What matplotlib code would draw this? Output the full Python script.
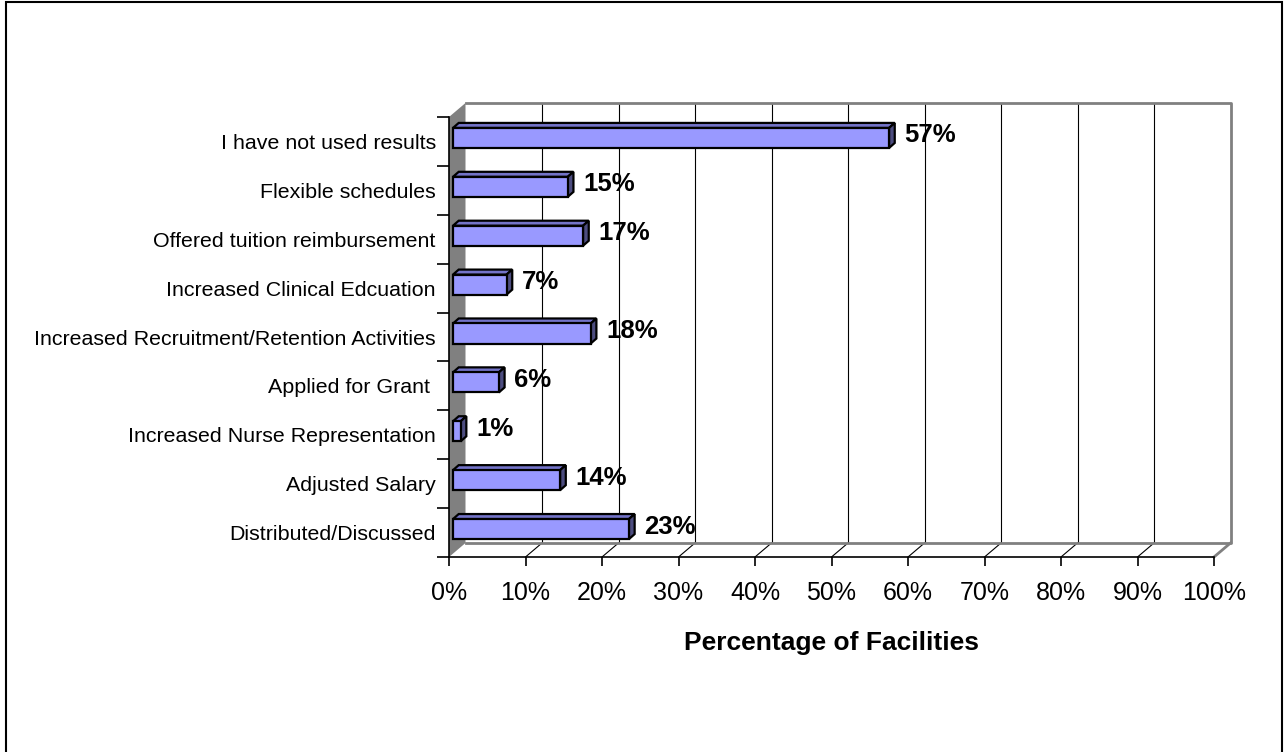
import numpy as np
import matplotlib.pyplot as plt
from matplotlib.patches import Polygon, Rectangle

plt.rcParams['font.family'] = ['Liberation Sans', 'DejaVu Sans']

# survey results, bottom row first
categories = ['Distributed/Discussed', 'Adjusted Salary', 'Increased Nurse Representation',
              'Applied for Grant ', 'Increased Recruitment/Retention Activities',
              'Increased Clinical Edcuation', 'Offered tuition reimbursement',
              'Flexible schedules', 'I have not used results']
values = [23, 14, 1, 6, 18, 7, 17, 15, 57]
xticks = np.arange(0, 101, 10)
xticklabels = ['%d%%' % t for t in xticks]

W, H = 1288, 752
fig = plt.figure(figsize=(W/100, H/100), dpi=100)

# front plane of the 3d box, in pixels
x0, x1 = 449, 1214
yb, yt = 557, 117
ax = fig.add_axes([x0/W, (H-yb)/H, (x1-x0)/W, (yb-yt)/H])
ax.set_xlim(0, 100)
ax.set_ylim(-0.5, len(categories)-0.5)

# pixel -> data scale
sx = (x1-x0)/100.
sy = (yb-yt)/float(len(categories))

def px(dx, dy):
    return dx/sx, dy/sy

# depth of the box and of the bars
DX, DY = px(16.5, 14)
FX, FY = px(4, 3.5)
BX, BY = px(5.7, 5.0)
hh = 0.205

ylo, yhi = -0.5, len(categories)-0.5
wall = '#808080'

# back wall
ax.add_patch(Rectangle((DX, ylo+DY), 100, yhi-ylo, facecolor='white',
                       edgecolor='none', zorder=0.5, clip_on=False))
for t in xticks[1:-1]:
    ax.plot([t+DX, t+DX], [ylo+DY, yhi+DY], color='black', lw=0.8, zorder=1, clip_on=False)
    ax.plot([t, t+DX], [ylo, ylo+DY], color='black', lw=0.8, zorder=1, clip_on=False)
ax.plot([DX, 100+DX, 100+DX, DX], [yhi+DY, yhi+DY, ylo+DY, ylo+DY],
        color=wall, lw=2, zorder=1.2, clip_on=False)
ax.plot([100+DX, 100], [ylo+DY, ylo], color=wall, lw=2, zorder=1.2, clip_on=False)

# side wall
ax.add_patch(Polygon([(0, ylo), (DX, ylo+DY), (DX, yhi+DY), (0, yhi)],
                     closed=True, facecolor=wall, edgecolor='none', zorder=1.5, clip_on=False))

# bars with top and end faces
ys = np.arange(len(categories))
ax.barh(ys+FY, values, height=2*hh, left=FX, color='#9999FF', edgecolor='black',
        linewidth=1.6, zorder=3)
for y, v in zip(ys, values):
    top = [(FX, y+FY+hh), (FX+v, y+FY+hh), (FX+v+BX, y+FY+hh+BY), (FX+BX, y+FY+hh+BY)]
    side = [(FX+v, y+FY-hh), (FX+v+BX, y+FY-hh+BY), (FX+v+BX, y+FY+hh+BY), (FX+v, y+FY+hh)]
    ax.add_patch(Polygon(top, closed=True, facecolor='#7373C8', edgecolor='black',
                         lw=1.6, zorder=2.9, clip_on=False))
    ax.add_patch(Polygon(side, closed=True, facecolor='#4D4D80', edgecolor='black',
                         lw=1.6, zorder=2.9, clip_on=False))
    ax.annotate('%d%%' % v, xy=(FX+v+BX, y+FY+BY/2), xytext=(7, 0),
                textcoords='offset points', ha='left', va='center',
                fontsize=18.5, fontweight='bold', zorder=4, annotation_clip=False)

# axes
ax.set_facecolor('none')
for s in ['top', 'right']:
    ax.spines[s].set_visible(False)
for s in ['left', 'bottom']:
    ax.spines[s].set_color('black')
    ax.spines[s].set_linewidth(1.2)
    ax.spines[s].set_zorder(2)

ax.set_xticks(xticks)
ax.set_xticklabels(xticklabels, fontsize=18)
ax.tick_params(axis='x', length=6.5, width=1.2, pad=10.5)
ax.set_yticks(ys)
ax.set_yticklabels(categories, fontsize=15.4)
ax.set_yticks(np.arange(-0.5, len(categories), 1.0), minor=True)
ax.tick_params(axis='y', which='major', length=0, pad=9.5)
ax.tick_params(axis='y', which='minor', length=8.5, width=1.2)
ax.set_xlabel('Percentage of Facilities', fontsize=19, fontweight='bold', labelpad=19)

# outer frame
fig.patches.append(Rectangle((6/W, -0.05), (1282-6)/W, 1.05-2/H, transform=fig.transFigure,
                             fill=False, edgecolor='black', lw=1.5))

fig.savefig('out.png', dpi=100)
